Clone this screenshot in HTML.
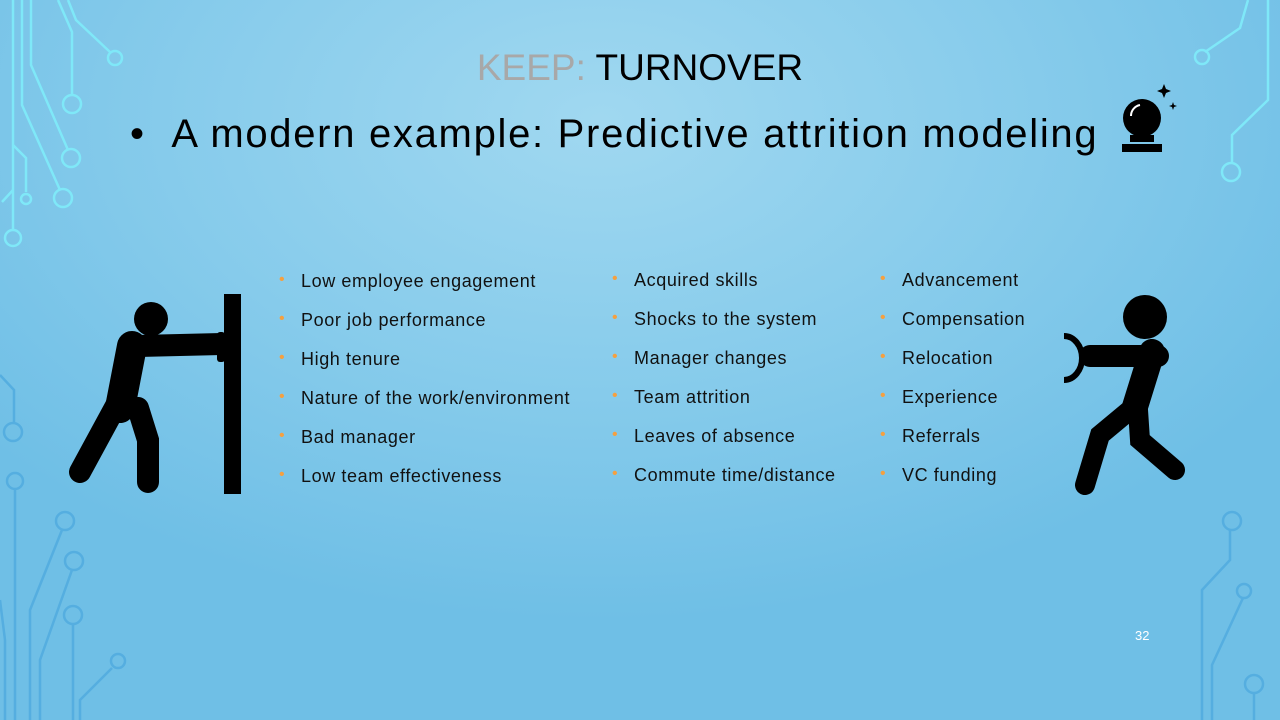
<!DOCTYPE html>
<html><head><meta charset="utf-8"><style>
body{margin:0;width:1280px;height:720px;overflow:hidden;font-family:"Liberation Sans","DejaVu Sans",sans-serif;}
#slide{position:relative;width:1280px;height:720px;background:radial-gradient(ellipse 800px 500px at 600px 120px,#a0d8f0 0%,#86cbeb 55%,#6fbfe6 100%);}
.t{position:absolute;white-space:nowrap;}
.li{position:absolute;font-size:18px;color:#111;white-space:nowrap;letter-spacing:0.6px;}
.li:before{content:"•";color:#f5a040;position:absolute;left:-22px;font-size:16px;top:0px;}
</style></head><body>
<div id="slide">
<svg width="1280" height="720" style="position:absolute;left:0;top:0" fill="none" stroke-width="2.5">
<g stroke="#7fe8f8">
<path d="M13,0 V230"/><circle cx="13" cy="238" r="8"/>
<path d="M22,0 V105 L60,190"/><circle cx="63" cy="198" r="9"/>
<path d="M31,0 V65 L68,150"/><circle cx="71" cy="158" r="9"/>
<path d="M58,0 L72,32 V95"/><circle cx="72" cy="104" r="9"/>
<path d="M68,0 L76,20 L110,52"/><circle cx="115" cy="58" r="7"/>
<path d="M13,145 L26,158 V192"/><circle cx="26" cy="199" r="5"/>
<path d="M13,190 L2,202"/>
<path d="M1248,0 L1240,28 L1205,52"/><circle cx="1202" cy="57" r="7"/>
<path d="M1268,0 V100 L1232,135 V162"/><circle cx="1231" cy="172" r="9"/>
</g>
<g stroke="#55aee0">
<path d="M0,375 L14,390 V422"/><circle cx="13" cy="432" r="9"/>
<path d="M15,490 V720"/><circle cx="15" cy="481" r="8"/>
<path d="M62,530 L30,610 V720"/><circle cx="65" cy="521" r="9"/>
<path d="M72,570 L40,660 V720"/><circle cx="74" cy="561" r="9"/>
<path d="M73,625 V720"/><circle cx="73" cy="615" r="9"/>
<path d="M112,668 L80,700 V720"/><circle cx="118" cy="661" r="7"/>
<path d="M0,600 L5,640 V720"/>
<path d="M1230,530 V560 L1202,590 V720"/><circle cx="1232" cy="521" r="9"/>
<path d="M1243,598 L1212,665 V720"/><circle cx="1244" cy="591" r="7"/>
<path d="M1254,693 V720"/><circle cx="1254" cy="684" r="9"/>
</g>
</svg>
<div class="t" style="left:0;width:1280px;text-align:center;top:47px;font-size:37px;"><span style="color:#a8a8a8">KEEP:</span> <span style="color:#000">TURNOVER</span></div>
<div class="t" style="left:130px;top:112px;font-size:40px;color:#000;letter-spacing:1.7px;">•&nbsp;&nbsp;A modern example: Predictive attrition modeling</div>
<svg style="position:absolute;left:1118px;top:82px" width="62" height="72">
<circle cx="24" cy="36" r="19" fill="#000"/><path d="M13,34 a11,11 0 0 1 9,-11" stroke="#fff" stroke-width="2" fill="none"/>
<rect x="12" y="53" width="24" height="7" fill="#000"/><rect x="4" y="62" width="40" height="8" fill="#000"/>
<path d="M46,2 l2,5 5,2 -5,2 -2,5 -2,-5 -5,-2 5,-2z M55,20 l1,3 3,1 -3,1 -1,3 -1,-3 -3,-1 3,-1z" fill="#000"/>
</svg>
<svg style="position:absolute;left:60px;top:290px" width="190" height="210">
<rect x="164" y="4" width="17" height="200" fill="#000"/>
<circle cx="91" cy="29" r="17" fill="#000"/>
<path d="M72,56 L60,118" stroke="#000" stroke-width="30" stroke-linecap="round"/>
<path d="M78,56 L162,54" stroke="#000" stroke-width="22" stroke-linecap="round"/>
<rect x="157" y="42" width="8" height="30" rx="3" fill="#000"/>
<path d="M58,112 L20,182" stroke="#000" stroke-width="22" stroke-linecap="round"/>
<path d="M78,118 L88,150 V192" stroke="#000" stroke-width="22" stroke-linecap="round"/>
</svg>
<svg style="position:absolute;left:1060px;top:290px" width="140" height="210">
<circle cx="85" cy="27" r="22" fill="#000"/>
<path d="M30,66 H98" stroke="#000" stroke-width="22" stroke-linecap="round"/>
<path d="M4,46 a18,22 0 0 1 18,22 a18,22 0 0 1 -18,22" stroke="#000" stroke-width="6" fill="none"/>
<path d="M92,62 L74,120" stroke="#000" stroke-width="26" stroke-linecap="round"/>
<path d="M70,120 L40,145 L25,195" stroke="#000" stroke-width="20" stroke-linecap="round" fill="none"/>
<path d="M78,120 L80,150 L115,180" stroke="#000" stroke-width="20" stroke-linecap="round" fill="none"/>
</svg>
<div>
<div class="li" style="left:301px;top:271px">Low employee engagement</div>
<div class="li" style="left:301px;top:310px">Poor job performance</div>
<div class="li" style="left:301px;top:349px">High tenure</div>
<div class="li" style="left:301px;top:388px">Nature of the work/environment</div>
<div class="li" style="left:301px;top:427px">Bad manager</div>
<div class="li" style="left:301px;top:466px">Low team effectiveness</div>
</div>
<div>
<div class="li" style="left:634px;top:270px">Acquired skills</div>
<div class="li" style="left:634px;top:309px">Shocks to the system</div>
<div class="li" style="left:634px;top:348px">Manager changes</div>
<div class="li" style="left:634px;top:387px">Team attrition</div>
<div class="li" style="left:634px;top:426px">Leaves of absence</div>
<div class="li" style="left:634px;top:465px">Commute time/distance</div>
</div>
<div>
<div class="li" style="left:902px;top:270px">Advancement</div>
<div class="li" style="left:902px;top:309px">Compensation</div>
<div class="li" style="left:902px;top:348px">Relocation</div>
<div class="li" style="left:902px;top:387px">Experience</div>
<div class="li" style="left:902px;top:426px">Referrals</div>
<div class="li" style="left:902px;top:465px">VC funding</div>
</div>
<div class="t" style="left:1135px;top:628px;font-size:13px;color:#fff;">32</div>
</div>
</body></html>
